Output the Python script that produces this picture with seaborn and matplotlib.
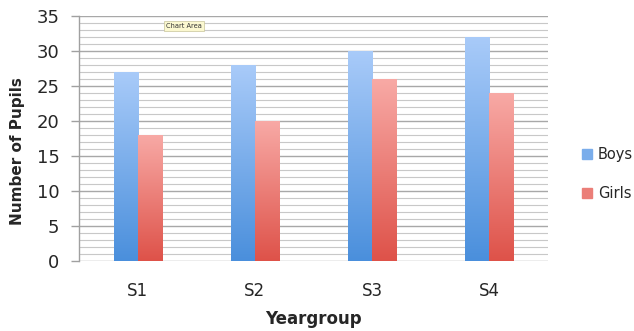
import numpy as np
import pandas as pd
import matplotlib
matplotlib.use("Agg")
import matplotlib.pyplot as plt
import seaborn as sns
from matplotlib.colors import LinearSegmentedColormap

yeargroups = ["S1", "S2", "S3", "S4"]
boys = [27, 28, 30, 32]
girls = [18, 20, 26, 24]
series = ["Boys", "Girls"]

df = pd.DataFrame({
    "Yeargroup": yeargroups * 2,
    "Pupils": boys + girls,
    "Gender": ["Boys"] * len(yeargroups) + ["Girls"] * len(yeargroups),
})

sns.set_theme(style="white")
plt.rcParams["font.family"] = ["DejaVu Sans"]

fig = plt.figure(figsize=(6.34, 3.31), dpi=100)
ax = fig.add_axes([0.1246, 0.2115, 0.864 - 0.1246, 0.9517 - 0.2115])

base = {"Boys": "#5b9be0", "Girls": "#e0605a"}
grad = {
    "Boys": LinearSegmentedColormap.from_list("b", ["#4a8fdc", "#a9cbf9"]),
    "Girls": LinearSegmentedColormap.from_list("g", ["#de5249", "#f8aaa6"]),
}

sns.barplot(data=df, x="Yeargroup", y="Pupils", hue="Gender", order=yeargroups,
            hue_order=series, palette=base, width=0.41, ax=ax, legend=False,
            zorder=3, linewidth=0)

# vertical gradient fill clipped to each bar
ramp = np.linspace(0, 1, 256).reshape(-1, 1)
for container, name in zip(ax.containers, series):
    for bar in container:
        x0, y0 = bar.get_x(), bar.get_y()
        w, h = bar.get_width(), bar.get_height()
        im = ax.imshow(ramp, cmap=grad[name], origin="lower", aspect="auto",
                       extent=[x0, x0 + w, y0, y0 + h], zorder=4)
        im.set_clip_path(bar)

ax.set_xlim(-0.5, 3.5)
ax.set_ylim(0, 35)
ax.set_yticks(np.arange(0, 36, 5))
ax.set_yticks(np.arange(0, 36, 1), minor=True)
ax.grid(axis="y", which="major", color="#a8a8a8", linewidth=1.0, zorder=0)
ax.grid(axis="y", which="minor", color="#c8c8c8", linewidth=0.8, zorder=0)
ax.set_axisbelow(True)
for s in ["top", "right", "bottom"]:
    ax.spines[s].set_visible(False)
ax.spines["left"].set_color("#a0a0a0")
ax.spines["left"].set_linewidth(1.0)
ax.tick_params(axis="y", which="major", left=True, length=6, width=1,
               color="#a0a0a0", labelsize=13, pad=8)
ax.tick_params(axis="y", which="minor", left=False)
ax.tick_params(axis="x", bottom=False, labelsize=12, pad=9)

ax.set_xlabel("Yeargroup", fontsize=12, fontweight="bold", labelpad=7)
ax.set_ylabel("Number of Pupils", fontsize=11, fontweight="bold")
ax.yaxis.set_label_coords(-0.115, 0.45)

handles = [plt.Rectangle((0, 0), 1, 1, color=grad[n](0.5)) for n in series]
fig.legend(handles, series, loc="center left", bbox_to_anchor=(0.918, 0.474),
           frameon=False, fontsize=10.5, handlelength=0.7, handleheight=0.7,
           handletextpad=0.4, labelspacing=1.6, borderaxespad=0, borderpad=0)

fig.text(0.262, 0.915, "Chart Area", fontsize=4.8, color="#333333",
         bbox=dict(boxstyle="square,pad=0.3", fc="#fbf8d0", ec="#c8c49a", lw=0.5))

fig.savefig("out.png", dpi=100)
